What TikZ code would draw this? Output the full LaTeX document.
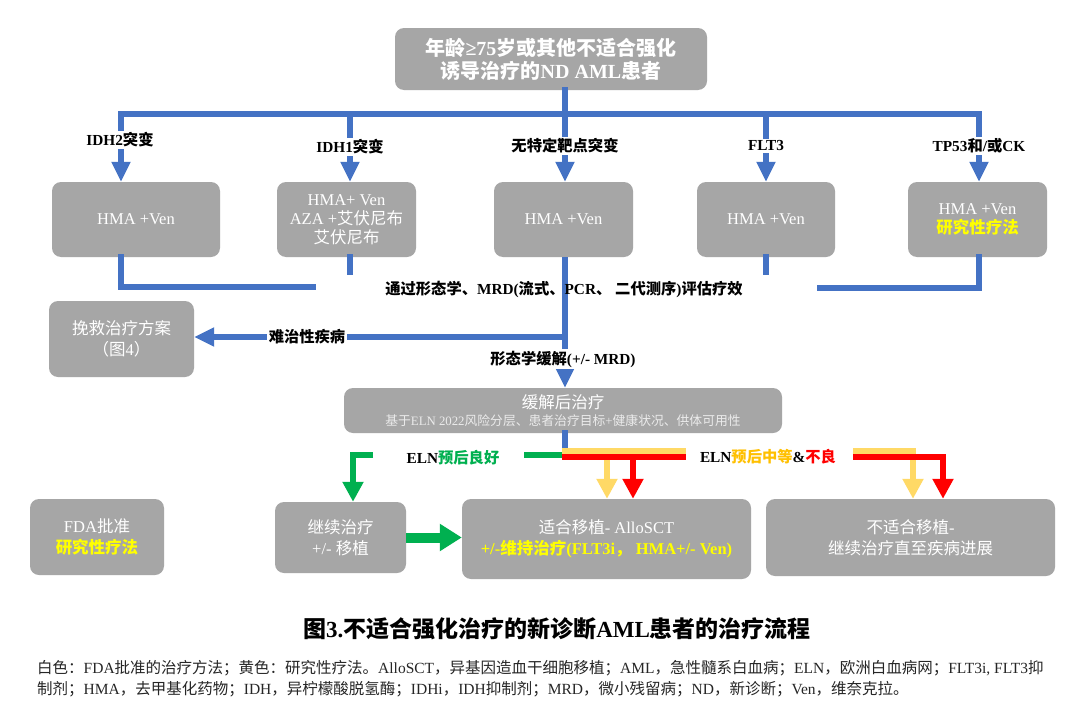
\documentclass[tikz,border=0pt]{standalone}
\usepackage{fontspec}
\setmainfont{Liberation Serif}
\newfontfamily\cjk{Noto Sans CJK SC}
\XeTeXinterchartokenstate=1
\newXeTeXintercharclass\cjkcls
\newcount\cc
\def\setcls#1#2{\cc=#1\relax\loop\XeTeXcharclass\cc=\cjkcls\relax\ifnum\cc<#2\advance\cc by 1\repeat}
\setcls{"3000}{"303F}
\setcls{"4E00}{"9FFF}
\setcls{"FF00}{"FFEF}
\XeTeXinterchartoks 0 \cjkcls = {\begingroup\cjk}
\XeTeXinterchartoks 4095 \cjkcls = {\begingroup\cjk}
\XeTeXinterchartoks \cjkcls 0 = {\endgroup}
\XeTeXinterchartoks \cjkcls 4095 = {\endgroup}
\usetikzlibrary{arrows.meta}
\definecolor{blu}{HTML}{4472C4}
\definecolor{boxg}{HTML}{A6A6A6}
\definecolor{grn}{HTML}{00B050}
\definecolor{ylw}{HTML}{FFD966}
\definecolor{orng}{HTML}{FFC000}
\definecolor{rd}{HTML}{FF0000}
\definecolor{yt}{HTML}{FFFF00}
\tikzset{
 box/.style={fill=boxg, rounded corners=9pt, text=white, align=center, inner sep=0pt, font=\fontsize{16.5}{21.5}\selectfont},
 tight/.style={font=\fontsize{16.5}{19}\selectfont},
 lab/.style={fill=white, inner sep=2pt, font=\bfseries\fontsize{15.3}{18}\selectfont},
 bline/.style={draw=blu, line width=6pt, line cap=rect},
 barrow/.style={draw=blu, line width=6pt, -{Triangle[width=18pt,length=20pt]}},
 gline/.style={draw=grn, line width=6pt, line cap=rect},
 garrow/.style={draw=grn, line width=6pt, -{Triangle[width=20pt,length=20pt]}},
 yline/.style={draw=ylw, line width=6pt, line cap=rect},
 yarrow/.style={draw=ylw, line width=6pt, -{Triangle[width=20pt,length=20pt]}},
 rline/.style={draw=rd, line width=6pt, line cap=rect},
 rarrow/.style={draw=rd, line width=6pt, -{Triangle[width=20pt,length=20pt]}},
}
\begin{document}
\begin{tikzpicture}[x=1pt,y=-1pt]
\useasboundingbox[fill=white] (0,0) rectangle (1080,720);
% boxes
\node[box, minimum width=312pt, minimum height=62pt, font=\bfseries\fontsize{20}{23}\selectfont] (top) at (551,59) {年龄≥75岁或其他不适合强化\\诱导治疗的ND AML患者};
\node[box, minimum width=168pt, minimum height=75pt] (r1a) at (136,219.5) {HMA +Ven};
\node[box, tight, minimum width=139pt, minimum height=75pt] (r1b) at (346.5,219.5) {HMA+ Ven\\AZA +艾伏尼布\\艾伏尼布};
\node[box, minimum width=139pt, minimum height=75pt] (r1c) at (563.5,219.5) {HMA +Ven};
\node[box, minimum width=138pt, minimum height=75pt] (r1d) at (766,219.5) {HMA +Ven};
\node[box, tight, minimum width=139pt, minimum height=75pt] (r1e) at (977.5,219.5) {HMA +Ven\\{\bfseries\color{yt}研究性疗法}};
\node[box, minimum width=145pt, minimum height=76pt] (sv) at (121.5,339) {挽救治疗方案\\（图4）};
\node[box, minimum width=438pt, minimum height=45pt] (rel) at (563,410.5) {缓解后治疗\\[-5pt]{\fontsize{12.8}{14}\selectfont\color{white!92!black}基于ELN 2022风险分层、患者治疗目标+健康状况、供体可用性}};
\node[box, minimum width=134pt, minimum height=76pt] (fda) at (97,537) {FDA批准\\{\bfseries\color{yt}研究性疗法}};
\node[box, minimum width=131pt, minimum height=71pt] (cont) at (340.5,537.5) {继续治疗\\+/- 移植};
\node[box, minimum width=289pt, minimum height=80pt] (fit) at (606.5,539) {适合移植- AlloSCT\\{\bfseries\color{yt}+/-维持治疗(FLT3i， HMA+/- Ven)}};
\node[box, minimum width=289pt, minimum height=77pt] (nfit) at (910.5,537.5) {不适合移植-\\继续治疗直至疾病进展};
% top bus
\coordinate (b0) at (565,114);
\coordinate (t1) at (121,114);
\coordinate (t2) at (350,114);
\coordinate (t4) at (766,114);
\coordinate (t5) at (979,114);
\draw[bline] (top.south -| b0) -- (b0);
\draw[bline] (t1) -- (t5);
\draw[barrow] (t1) -- (t1 |- r1a.north);
\draw[barrow] (t2) -- (t2 |- r1b.north);
\draw[barrow] (b0) -- (b0 |- r1c.north);
\draw[barrow] (t4) -- (t4 |- r1d.north);
\draw[barrow] (t5) -- (t5 |- r1e.north);
\node[lab] (l1) at (120,140) {IDH2突变};
\node[lab] (l2) at (350,147) {IDH1突变};
\node[lab] (l3) at (565,146) {无特定靶点突变};
\node[lab] (l4) at (766,146) {FLT3};
\node[lab] (l5) at (979,146) {TP53和/或CK};
% lower bus
\coordinate (m1) at (121,287);
\coordinate (m1e) at (313,287);
\coordinate (m2) at (350,272);
\coordinate (m4) at (766,272);
\coordinate (m5) at (979,288);
\coordinate (m5e) at (820,288);
\draw[bline] (r1a.south -| m1) -- (m1) -- (m1e);
\draw[bline] (r1b.south -| m2) -- (m2);
\draw[bline] (r1d.south -| m4) -- (m4);
\draw[bline] (r1e.south -| m5) -- (m5) -- (m5e);
\coordinate (r0) at (565,337);
\draw[barrow] (r1c.south -| b0) -- (rel.north -| b0);
\draw[barrow] (r0) -- (sv.east |- r0);
\node[lab, fill=none] (ev) at (564,289) {通过形态学、MRD(流式、PCR、 二代测序)评估疗效};
\node[lab] (rf) at (307,337) {难治性疾病};
\node[lab] (cr) at (563,359) {形态学缓解(+/- MRD)};
% after remission
\coordinate (j) at (565,455);
\draw[bline] (rel.south -| j) -- (j);
\coordinate (ga) at (527,455);
\coordinate (gb) at (373,455);
\coordinate (gc) at (353,455);
\draw[gline] (j) -- (ga);
\draw[garrow] (gb) -- (gc) -- (gc |- cont.north);
\node[lab, fill=none] (good) at (453,458) {ELN{\color{grn}预后良好}};
\coordinate (ya) at (683,451);
\coordinate (ra) at (683,457);
\draw[yline] (j |- ya) -- (ya);
\draw[yarrow] (607,451) -- (607,0 |- fit.north);
\draw[rline] (j |- ra) -- (ra);
\draw[rarrow] (633,457) -- (633,0 |- fit.north);
\node[lab, fill=none] (bad) at (768,457) {ELN{\color{orng}预后中等}\&{\color{rd}不良}};
\coordinate (yb) at (853,451);
\coordinate (yc) at (913,451);
\coordinate (rb) at (853,457);
\coordinate (rc) at (943,457);
\draw[yarrow] (yb) -- (yc) -- (yc |- nfit.north);
\draw[rarrow] (rb) -- (rc) -- (rc |- nfit.north);
\draw[draw=grn, line width=10pt, -{Triangle[width=26pt,length=22pt]}] (cont.east) -- (fit.west |- cont.east);
% caption and notes
\node[font=\bfseries\fontsize{23}{26}\selectfont] (cap) at (557,629) {图3.不适合强化治疗的新诊断AML患者的治疗流程};
\node[anchor=west, inner sep=0pt, font=\fontsize{15.5}{17}\selectfont, text=black!85] (n1) at (37,668) {白色：FDA批准的治疗方法；黄色：研究性疗法。AlloSCT，异基因造血干细胞移植；AML，急性髓系白血病；ELN，欧洲白血病网；FLT3i, FLT3抑};
\node[anchor=west, inner sep=0pt, font=\fontsize{15.5}{17}\selectfont, text=black!85] (n2) at (37,689) {制剂；HMA，去甲基化药物；IDH，异柠檬酸脱氢酶；IDHi，IDH抑制剂；MRD，微小残留病；ND，新诊断；Ven，维奈克拉。};
\end{tikzpicture}
\end{document}
